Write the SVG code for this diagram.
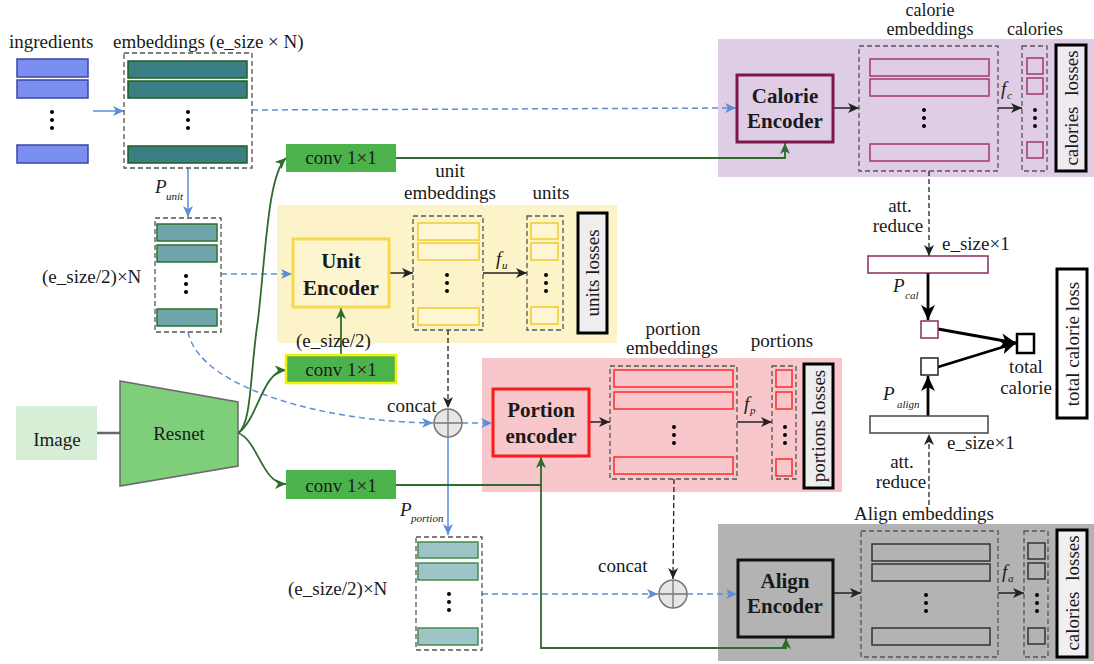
<svg xmlns="http://www.w3.org/2000/svg" width="1094" height="664" viewBox="0 0 1094 664" font-family="Liberation Serif, DejaVu Serif, serif" font-size="19">
<style>
text{fill:#1a1a1a}
.c{text-anchor:middle}
.b{font-weight:bold;font-size:21px}
.it{font-style:italic}
.sub{font-style:italic;font-size:11px}
.sm{font-size:18px}
.dash{fill:none;stroke:#555;stroke-width:1.3;stroke-dasharray:5 3}
.ing{fill:#7b8ff0;stroke:#3b46a8;stroke-width:1.5}
.emb1{fill:#3a7f83;stroke:#1f5f1f;stroke-width:1.5}
.emb2{fill:#6fa6ab;stroke:#2f6f2f;stroke-width:1.5}
.emb3{fill:#9dc4c7;stroke:#4a8a4a;stroke-width:1.5}
.blu{fill:none;stroke:#5b8ed8;stroke-width:1.5}
.bd{fill:none;stroke:#5b8ed8;stroke-width:1.5;stroke-dasharray:6 4}
.grn{fill:none;stroke:#2e6b2e;stroke-width:1.8}
.blk{fill:none;stroke:#222;stroke-width:1.5}
.kd{fill:none;stroke:#222;stroke-width:1.3;stroke-dasharray:5 3}
.thk{fill:none;stroke:#000;stroke-width:2.8}
.conv{fill:#4cb34c}
.loss{stroke:#000;stroke-width:3}
.pur{fill:none;stroke:#a3376f;stroke-width:1.5}
.yel{fill:#fdf6d3;stroke:#f0cc2c;stroke-width:1.5}
.red{fill:none;stroke:#ff2a2a;stroke-width:1.5}
.gry{fill:none;stroke:#333;stroke-width:1.5}
.circ{fill:#e6e6e6;stroke:#777;stroke-width:1.5}
.cx{stroke:#777;stroke-width:1.3}
</style>
<defs>
<marker id="ab" markerUnits="userSpaceOnUse" markerWidth="12" markerHeight="10" refX="11" refY="5" orient="auto"><path d="M0,0 L11,5 L0,10 L3,5 z" fill="#5b8ed8"/></marker>
<marker id="ak" markerUnits="userSpaceOnUse" markerWidth="12" markerHeight="10" refX="11" refY="5" orient="auto"><path d="M0,0 L11,5 L0,10 L3,5 z" fill="#222"/></marker>
<marker id="ag" markerUnits="userSpaceOnUse" markerWidth="12" markerHeight="10" refX="11" refY="5" orient="auto"><path d="M0,0 L11,5 L0,10 L3,5 z" fill="#2e6b2e"/></marker>
<marker id="at" markerUnits="userSpaceOnUse" markerWidth="16" markerHeight="14" refX="15" refY="7" orient="auto"><path d="M0,0 L15,7 L0,14 L4,7 z" fill="#000"/></marker>
<g id="dots"><circle cx="0" cy="0" r="2" fill="#000"/><circle cx="0" cy="8" r="2" fill="#000"/><circle cx="0" cy="16" r="2" fill="#000"/></g>
</defs>

<!-- regions -->
<rect x="718" y="39" width="376" height="138" fill="#dfcde6"/>
<rect x="277" y="205" width="340" height="138" fill="#fcf3c8"/>
<rect x="482" y="358" width="360" height="134" fill="#f8c7cb"/>
<rect x="718" y="524" width="376" height="137" fill="#b3b3b3"/>

<g id="connectors">
<path class="blu" d="M93,111 L124,111" marker-end="url(#ab)"/>
<path class="bd" d="M252,110 L736,108" marker-end="url(#ab)"/>
<path class="blu" d="M188,168 L188,217" marker-end="url(#ab)"/>
<path class="bd" d="M221,274 L292,274" marker-end="url(#ab)"/>
<path class="bd" d="M188,332 C200,390 330,422 433,423" marker-end="url(#ab)"/>
<path class="bd" d="M462,423 L492,423" marker-end="url(#ab)"/>
<path class="blu" d="M448,437 L448,535" marker-end="url(#ab)"/>
<path class="bd" d="M482,594 L658,594" marker-end="url(#ab)"/>
<path class="bd" d="M687,594 L737,594" marker-end="url(#ab)"/>
<path d="M97,433 L120,433" stroke="#666" stroke-width="2.5"/>
<path class="grn" d="M238,433 C252,425 250,370 258,320 C266,250 268,175 286,158" marker-end="url(#ag)"/>
<path class="grn" d="M238,433 C258,420 262,371 286,370" marker-end="url(#ag)"/>
<path class="grn" d="M238,433 C258,440 262,484 286,484" marker-end="url(#ag)"/>
<path class="grn" d="M396,158 L785,158 L785,143" marker-end="url(#ag)"/>
<path class="grn" d="M341,355 L341,308" marker-end="url(#ag)"/>
<path class="grn" d="M396,485 L541,485 L541,457" marker-end="url(#ag)"/>
<path class="grn" d="M541,485 L541,648 L786,648 L786,638" marker-end="url(#ag)"/>
<path class="blk" d="M833,108 L859,108" marker-end="url(#ak)"/>
<path class="blk" d="M389,273 L413,273" marker-end="url(#ak)"/>
<path class="blk" d="M589,422 L610,422" marker-end="url(#ak)"/>
<path class="blk" d="M833,593 L861,593" marker-end="url(#ak)"/>
<path class="blk" d="M998,108 L1022,108" marker-end="url(#ak)"/>
<path class="blk" d="M483,273 L527,273" marker-end="url(#ak)"/>
<path class="blk" d="M737,422 L772,422" marker-end="url(#ak)"/>
<path class="blk" d="M998,593 L1024,593" marker-end="url(#ak)"/>
<path class="kd" d="M448,330 L448,408" marker-end="url(#ak)"/>
<path class="kd" d="M674,479 L673,579" marker-end="url(#ak)"/>
<path class="kd" d="M929,171 L929,256" marker-end="url(#ak)"/>
<path class="kd" d="M929,505 L929,434" marker-end="url(#ak)"/>
<path class="thk" d="M928,273 L928,320" marker-end="url(#at)"/>
<path class="thk" d="M928,416 L928,376" marker-end="url(#at)"/>
<path class="thk" d="M938,329 L1016,343" marker-end="url(#at)"/>
<path class="thk" d="M938,367 L1016,343" marker-end="url(#at)"/>
</g>

<g id="ingredients">
<text x="9" y="48">ingredients</text>
<rect class="ing" x="17" y="59" width="71" height="18"/>
<rect class="ing" x="17" y="80" width="71" height="18"/>
<use href="#dots" x="52" y="112"/>
<rect class="ing" x="17" y="145" width="71" height="18"/>
</g>

<g id="embeddings">
<text x="113" y="48">embeddings (e_size × N)</text>
<rect class="dash" x="124" y="53" width="128" height="115"/>
<rect class="emb1" x="128" y="61" width="119" height="17"/>
<rect class="emb1" x="128" y="81" width="119" height="17"/>
<use href="#dots" x="188" y="112"/>
<rect class="emb1" x="128" y="146" width="119" height="17"/>
</g>

<g id="unit-emb-in">
<text x="155" y="193" class="it">P</text><text x="166" y="200" class="sub">unit</text>
<text x="42" y="283">(e_size/2)×N</text>
<rect class="dash" x="155" y="218" width="66" height="114"/>
<rect class="emb2" x="157" y="224" width="60" height="17"/>
<rect class="emb2" x="157" y="245" width="60" height="17"/>
<use href="#dots" x="186" y="276"/>
<rect class="emb2" x="157" y="309" width="60" height="17"/>
</g>

<g id="portion-emb-in">
<text x="400" y="516" class="it">P</text><text x="411" y="522" class="sub">portion</text>
<text x="288" y="595">(e_size/2)×N</text>
<rect class="dash" x="416" y="537" width="66" height="113"/>
<rect class="emb3" x="418" y="542" width="60" height="16"/>
<rect class="emb3" x="418" y="563" width="60" height="17"/>
<use href="#dots" x="449" y="594"/>
<rect class="emb3" x="418" y="628" width="60" height="17"/>
</g>

<g id="image">
<rect x="16" y="406" width="81" height="54" fill="#d5eed5"/>
<text x="57" y="446" class="c">Image</text>
</g>
<g id="resnet">
<polygon points="120,381 238,402 238,466 120,486" fill="#7fcf7a" stroke="#6a6a6a" stroke-width="1.5"/>
<text x="179" y="440" class="c">Resnet</text>
</g>

<g id="conv-top">
<rect class="conv" x="286" y="144" width="110" height="28"/>
<text x="341" y="164" class="c">conv 1×1</text>
</g>
<g id="conv-mid">
<rect class="conv" x="286" y="355" width="110" height="28" stroke="#f2f200" stroke-width="2.5"/>
<text x="341" y="376" class="c">conv 1×1</text>
<text x="296" y="347">(e_size/2)</text>
</g>
<g id="conv-bot">
<rect class="conv" x="286" y="470" width="110" height="29"/>
<text x="341" y="492" class="c">conv 1×1</text>
</g>

<g id="calorie-encoder">
<rect x="737" y="75" width="96" height="67" fill="#dfcde6" stroke="#7d1651" stroke-width="3"/>
<text x="785" y="103" class="c b">Calorie</text>
<text x="785" y="128" class="c b">Encoder</text>
</g>
<g id="calorie-emb">
<text x="930" y="16" class="c sm">calorie</text>
<text x="930" y="35" class="c sm">embeddings</text>
<rect class="dash" x="859" y="46" width="139" height="125"/>
<rect class="pur" x="870" y="59" width="119" height="17"/>
<rect class="pur" x="870" y="79" width="119" height="17"/>
<use href="#dots" x="924" y="110"/>
<rect class="pur" x="870" y="144" width="119" height="17"/>
<text x="1001" y="95" class="it">f</text><text x="1007" y="99" class="sub">c</text>
</g>
<g id="calories">
<text x="1035" y="35" class="c sm">calories</text>
<rect class="dash" x="1022" y="46" width="25" height="125"/>
<rect class="pur" x="1027" y="58" width="16" height="16"/>
<rect class="pur" x="1027" y="78" width="16" height="16"/>
<use href="#dots" x="1035" y="110"/>
<rect class="pur" x="1027" y="142" width="16" height="16"/>
</g>
<g id="calories-losses">
<rect class="loss" x="1056" y="45" width="30" height="126" fill="#efe9f1"/>
<text transform="translate(1078,108) rotate(-90)" class="c" word-spacing="6">calories losses</text>
</g>

<g id="unit-encoder">
<rect x="293" y="239" width="96" height="68" fill="#fdf5d0" stroke="#f7d84c" stroke-width="3"/>
<text x="341" y="268" class="c b">Unit</text>
<text x="341" y="295" class="c b">Encoder</text>
</g>
<g id="unit-emb">
<text x="450" y="177" class="c">unit</text>
<text x="450" y="199" class="c">embeddings</text>
<rect class="dash" x="413" y="216" width="70" height="114"/>
<rect class="yel" x="418" y="223" width="61" height="17"/>
<rect class="yel" x="418" y="243" width="61" height="17"/>
<use href="#dots" x="447" y="275"/>
<rect class="yel" x="418" y="308" width="61" height="17"/>
<text x="496" y="265" class="it">f</text><text x="502" y="269" class="sub">u</text>
</g>
<g id="units">
<text x="551" y="199" class="c">units</text>
<rect class="dash" x="527" y="216" width="36" height="114"/>
<rect class="yel" x="531" y="223" width="27" height="16"/>
<rect class="yel" x="531" y="243" width="27" height="17"/>
<use href="#dots" x="546" y="275"/>
<rect class="yel" x="531" y="307" width="27" height="17"/>
</g>
<g id="units-losses">
<rect class="loss" x="578" y="213" width="29" height="120" fill="#eeeeee"/>
<text transform="translate(599,273) rotate(-90)" class="c">units losses</text>
</g>

<g id="concat1">
<text x="387" y="412">concat</text>
<circle class="circ" cx="448" cy="423" r="14"/>
<path class="cx" d="M434,423 L462,423 M448,409 L448,437"/>
</g>

<g id="portion-encoder">
<rect x="493" y="389" width="96" height="67" fill="#f8c7cb" stroke="#ff1a1a" stroke-width="3"/>
<text x="541" y="417" class="c b">Portion</text>
<text x="541" y="443" class="c b">encoder</text>
</g>
<g id="portion-emb">
<text x="673" y="335" class="c">portion</text>
<text x="672" y="354" class="c">embeddings</text>
<rect class="dash" x="610" y="366" width="127" height="113"/>
<rect class="red" x="614" y="370" width="119" height="17"/>
<rect class="red" x="614" y="392" width="119" height="17"/>
<use href="#dots" x="674" y="427"/>
<rect class="red" x="614" y="457" width="119" height="17"/>
<text x="744" y="410" class="it">f</text><text x="750" y="414" class="sub">p</text>
</g>
<g id="portions">
<text x="782" y="347" class="c">portions</text>
<rect class="dash" x="772" y="366" width="24" height="113"/>
<rect class="red" x="776" y="370" width="16" height="17"/>
<rect class="red" x="776" y="392" width="16" height="17"/>
<use href="#dots" x="785" y="427"/>
<rect class="red" x="776" y="459" width="16" height="17"/>
</g>
<g id="portions-losses">
<rect class="loss" x="804" y="364" width="29" height="124" fill="#eeeeee"/>
<text transform="translate(825,426) rotate(-90)" class="c">portions losses</text>
</g>

<g id="concat2">
<text x="598" y="572">concat</text>
<circle class="circ" cx="673" cy="594" r="14"/>
<path class="cx" d="M659,594 L687,594 M673,580 L673,608"/>
</g>

<g id="align-encoder">
<rect x="738" y="560" width="95" height="77" fill="#b3b3b3" stroke="#111" stroke-width="3"/>
<text x="785" y="588" class="c b">Align</text>
<text x="785" y="613" class="c b">Encoder</text>
</g>
<g id="align-emb">
<text x="924" y="520" class="c">Align embeddings</text>
<rect class="dash" x="861" y="531" width="137" height="126"/>
<rect class="gry" x="872" y="544" width="118" height="17"/>
<rect class="gry" x="872" y="564" width="118" height="17"/>
<use href="#dots" x="926" y="595"/>
<rect class="gry" x="872" y="628" width="118" height="17"/>
<text x="1002" y="578" class="it">f</text><text x="1008" y="582" class="sub">a</text>
</g>
<g id="align-calories">
<rect class="dash" x="1024" y="531" width="24" height="126"/>
<rect class="gry" x="1028" y="543" width="17" height="16"/>
<rect class="gry" x="1028" y="563" width="17" height="16"/>
<use href="#dots" x="1037" y="595"/>
<rect class="gry" x="1028" y="628" width="17" height="16"/>
</g>
<g id="align-losses">
<rect class="loss" x="1057" y="530" width="30" height="127" fill="#f0f0f0"/>
<text transform="translate(1079,593) rotate(-90)" class="c" word-spacing="6">calories losses</text>
</g>

<g id="cal-reduce">
<text x="900" y="212" class="c">att.</text>
<text x="898" y="232" class="c">reduce</text>
<text x="942" y="250">e_size×1</text>
<rect x="868" y="256" width="120" height="17" fill="#fff" stroke="#8b2a60" stroke-width="1.5"/>
<text x="893" y="292" class="it">P</text><text x="905" y="299" class="sub">cal</text>
</g>
<g id="cal-pred">
<rect x="921" y="321" width="17" height="17" fill="#fff" stroke="#8b2a60" stroke-width="1.5"/>
</g>
<g id="align-pred">
<rect x="921" y="358" width="17" height="17" fill="#fff" stroke="#222" stroke-width="1.5"/>
</g>
<g id="total-calorie">
<rect x="1017" y="334" width="17" height="19" fill="#fff" stroke="#000" stroke-width="2.5"/>
<text x="1026" y="373" class="c">total</text>
<text x="1026" y="394" class="c">calorie</text>
</g>
<g id="align-reduce">
<text x="883" y="400" class="it">P</text><text x="897" y="408" class="sub">align</text>
<rect x="870" y="416" width="118" height="17" fill="#fff" stroke="#444" stroke-width="1.5"/>
<text x="947" y="449">e_size×1</text>
<text x="902" y="468" class="c">att.</text>
<text x="901" y="488" class="c">reduce</text>
</g>
<g id="total-loss">
<rect class="loss" x="1057" y="269" width="30" height="149" fill="#fff"/>
<text transform="translate(1079,344) rotate(-90)" class="c">total calorie loss</text>
</g>
</svg>
